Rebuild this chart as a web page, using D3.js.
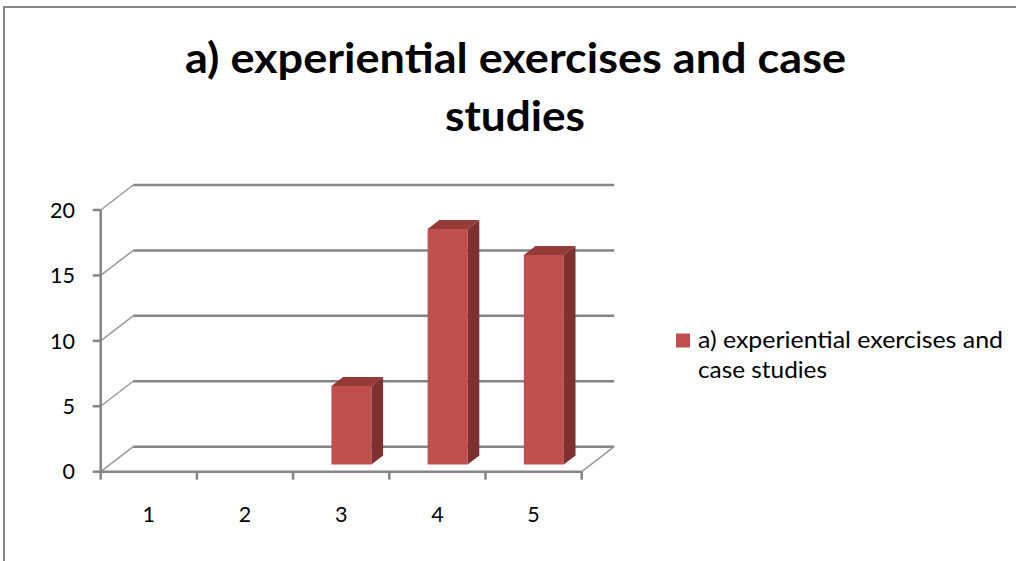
<!doctype html>
<html lang="en">
<head>
    <meta charset="UTF-8">
    <title>a) experiential exercises and case studies</title>
    <style>
        body { margin: 0; background: #fff; }
        svg text { font-family: Lato, "Open Sans", sans-serif; fill: #000; }
    </style>
</head>
<body>

<div class="canvas">
    <svg width="1016" height="561"></svg>
</div>

<script src="https://d3js.org/d3.v7.min.js"></script>
<script>
    const categories = ['1', '2', '3', '4', '5'];
    const values = [0, 0, 6, 18, 16];
    const yTicks = [0, 5, 10, 15, 20];
    const titleLines = ['a) experiential exercises and case', 'studies'];
    const legendLines = ['a) experiential exercises and', 'case studies'];

    const svg = d3.select('.canvas svg');

    // depth offset of the back wall
    const depth = { dx: 32.5, dy: -25 };
    const barZ = [0.29, 0.65];

    const x = d3.scaleBand()
        .domain(categories)
        .range([100.7, 581.7]);

    const y = d3.scaleLinear()
        .domain([0, 20])
        .range([471.7, 210]);

    // sets font size so the text has the given width
    function fitWidth(sel, target) {
        sel.style('font-size', '20px');
        const w = sel.node().getComputedTextLength();
        const size = 20 * target / w;
        sel.style('font-size', size + 'px');
        return size;
    }

    // outer border
    svg.append('path')
        .attr('d', 'M4,561 V7 H1016')
        .attr('fill', 'none')
        .attr('stroke', '#878787')
        .attr('stroke-width', 2);

    // title (Calibri is narrower than Lato, so squeeze a little)
    const title = svg.append('g')
        .attr('font-weight', 'bold')
        .style('font-size', '42px');
    title.append('text')
        .attr('x', 185).attr('y', 72.7)
        .attr('textLength', 661)
        .attr('lengthAdjust', 'spacingAndGlyphs')
        .text(titleLines[0]);
    title.append('text')
        .attr('x', 445).attr('y', 130.7)
        .attr('textLength', 140)
        .attr('lengthAdjust', 'spacingAndGlyphs')
        .text(titleLines[1]);

    const x0 = x.range()[0], x1 = x.range()[1];

    // side wall lines
    svg.append('g').selectAll('line')
        .data(yTicks)
        .enter()
        .append('line')
        .attr('x1', x0)
        .attr('y1', d => y(d))
        .attr('x2', x0 + depth.dx)
        .attr('y2', d => y(d) + depth.dy)
        .attr('stroke', '#9a9a9a')
        .attr('stroke-width', 1.5);

    // back wall gridlines
    svg.append('g').selectAll('line')
        .data(yTicks)
        .enter()
        .append('line')
        .attr('x1', x0 + depth.dx)
        .attr('y1', d => y(d) + depth.dy)
        .attr('x2', x1 + depth.dx)
        .attr('y2', d => y(d) + depth.dy)
        .attr('stroke', '#858585')
        .attr('stroke-width', 2.5);

    // floor right edge
    svg.append('line')
        .attr('x1', x1).attr('y1', y(0))
        .attr('x2', x1 + depth.dx).attr('y2', y(0) + depth.dy)
        .attr('stroke', '#9a9a9a')
        .attr('stroke-width', 1.5);

    // value axis
    svg.append('line')
        .attr('x1', x0).attr('y1', y(0))
        .attr('x2', x0).attr('y2', y(20))
        .attr('stroke', '#858585')
        .attr('stroke-width', 2.5);
    svg.append('g').selectAll('line')
        .data(yTicks)
        .enter()
        .append('line')
        .attr('x1', x0 - 8)
        .attr('x2', x0)
        .attr('y1', d => y(d))
        .attr('y2', d => y(d))
        .attr('stroke', '#858585')
        .attr('stroke-width', 2.5);
    const yLabels = svg.append('g').selectAll('text')
        .data(yTicks)
        .enter()
        .append('text')
        .attr('x', 75)
        .attr('y', d => y(d))
        .attr('dy', '0.36em')
        .attr('text-anchor', 'end')
        .text(d => d);
    const labelSize = fitWidth(d3.select(yLabels.nodes()[4]), 25);
    yLabels.style('font-size', labelSize + 'px');

    // category axis
    svg.append('line')
        .attr('x1', x0).attr('y1', y(0))
        .attr('x2', x1).attr('y2', y(0))
        .attr('stroke', '#858585')
        .attr('stroke-width', 2.5);
    svg.append('g').selectAll('line')
        .data(categories.concat(['end']))
        .enter()
        .append('line')
        .attr('x1', d => d === 'end' ? x1 : x(d))
        .attr('x2', d => d === 'end' ? x1 : x(d))
        .attr('y1', y(0))
        .attr('y2', y(0) + 8)
        .attr('stroke', '#858585')
        .attr('stroke-width', 2.5);
    svg.append('g').selectAll('text')
        .data(categories)
        .enter()
        .append('text')
        .attr('x', d => x(d) + x.bandwidth() / 2)
        .attr('y', 521.7)
        .attr('text-anchor', 'middle')
        .style('font-size', labelSize + 'px')
        .text(d => d);

    // 3d columns
    const barW = 40;
    const bars = svg.append('g').selectAll('g')
        .data(values.map((v, i) => ({ cat: categories[i], value: v })).filter(d => d.value > 0))
        .enter()
        .append('g');

    function corner(d, side, z, v) {
        const left = x(d.cat) + x.bandwidth() / 2 - 19.2;
        return [left + side * barW + depth.dx * z, y(v) + depth.dy * z];
    }
    function poly(pts) {
        return 'M' + pts.map(p => p.join(',')).join('L') + 'Z';
    }

    bars.append('path')
        .attr('d', d => poly([
            corner(d, 0, barZ[0], 0), corner(d, 1, barZ[0], 0),
            corner(d, 1, barZ[0], d.value), corner(d, 0, barZ[0], d.value)
        ]))
        .attr('fill', '#c0504d');
    bars.append('path')
        .attr('d', d => poly([
            corner(d, 1, barZ[0], 0), corner(d, 1, barZ[1], 0),
            corner(d, 1, barZ[1], d.value), corner(d, 1, barZ[0], d.value)
        ]))
        .attr('fill', '#7d3230');
    bars.append('path')
        .attr('d', d => poly([
            corner(d, 0, barZ[0], d.value), corner(d, 1, barZ[0], d.value),
            corner(d, 1, barZ[1], d.value), corner(d, 0, barZ[1], d.value)
        ]))
        .attr('fill', '#943b38');

    // legend
    svg.append('rect')
        .attr('x', 676).attr('y', 333.5)
        .attr('width', 14).attr('height', 14)
        .attr('fill', '#c0504d');
    const legend = svg.append('g').style('font-size', '23px');
    legend.append('text')
        .attr('x', 698).attr('y', 347.7)
        .attr('textLength', 305)
        .attr('lengthAdjust', 'spacingAndGlyphs')
        .text(legendLines[0]);
    legend.append('text')
        .attr('x', 698).attr('y', 378.3)
        .attr('textLength', 129)
        .attr('lengthAdjust', 'spacingAndGlyphs')
        .text(legendLines[1]);
</script>
</body>
</html>
